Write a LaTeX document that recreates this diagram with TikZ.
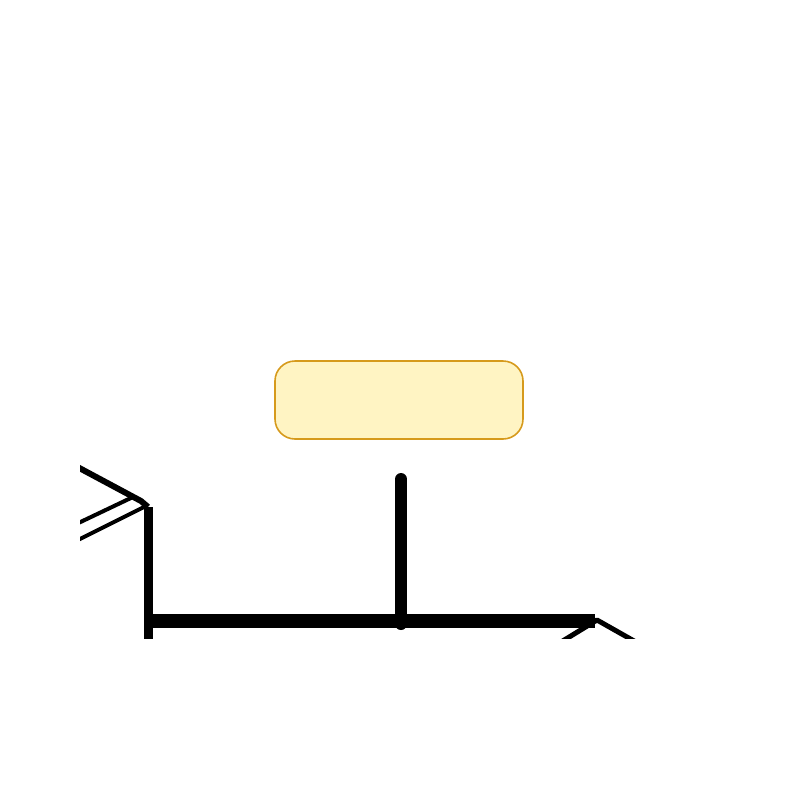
\documentclass[tikz,border=0pt]{standalone}
\begin{document}
\begin{tikzpicture}[x=0.75pt,y=-0.75pt,
  thickbar/.style={line width=#1*0.75pt, black},
  termbox/.style={draw=boxedge, fill=boxfill, line width=1.2pt, rounded corners=15pt,
    minimum width=186pt, minimum height=58.5pt, inner sep=0pt}]
\definecolor{boxfill}{HTML}{FFF4C3}
\definecolor{boxedge}{HTML}{D69A1C}
\useasboundingbox (0,0) rectangle (800,800);
\node[termbox] (box) at (399,400) {};
\coordinate (vtop) at (401,479);
\coordinate (vbot) at (401,624);
\coordinate (hl) at (148,621);
\coordinate (hr) at (595,621);
\coordinate (lc) at (148,507);
\coordinate (lb) at (148,650);
\coordinate (t1) at (70,463);
\coordinate (t2) at (141,501);
\coordinate (m1) at (70,527);
\coordinate (m2) at (133,497);
\coordinate (b1) at (70,544);
\coordinate (b2) at (146,506);
\coordinate (r1) at (650,650);
\coordinate (r2) at (597,620);
\coordinate (r3) at (548,650);
\begin{scope}
\clip (80,0) rectangle (660,638);
\draw[thickbar=12, line cap=round] (vtop) -- (vbot);
\draw[thickbar=14] (hl) -- (hr);
\draw[thickbar=9] (lc) -- (lb);
\draw[thickbar=6, line join=round] (t1) -- (t2) -- (lc);
\draw[thickbar=4] (m1) -- (m2);
\draw[thickbar=4] (b1) -- (b2);
\draw[thickbar=5, line join=round] (r3) -- (r2) -- (r1);
\end{scope}
\end{tikzpicture}
\end{document}
